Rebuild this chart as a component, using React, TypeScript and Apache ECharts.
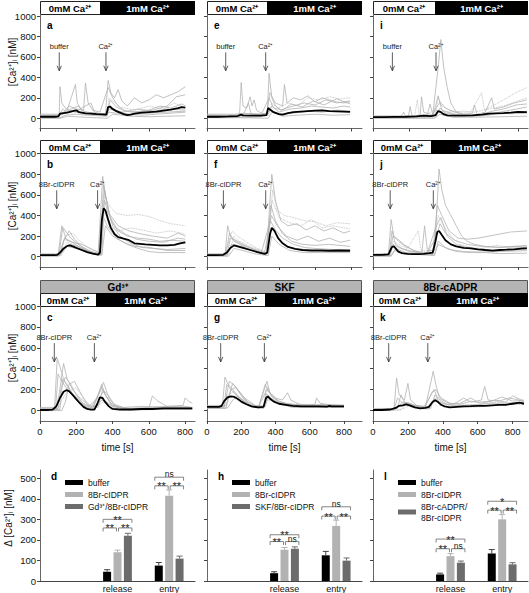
import React, { useEffect, useRef } from "react";
import * as echarts from "echarts";

// ---------------- tick values & categories ----------------
const timeTicks = [0, 200, 400, 600, 800];
const caTicks = [0, 200, 400, 600, 800, 1000];
const deltaTicks = [0, 100, 200, 300, 400, 500];
const barCategories = ["", "release", "entry"];

// ---------------- panel a (buffer) ----------------
const aMean = [[0,15],[40,15],[80,15],[100,18],[110,45],[130,50],[150,55],[170,65],[190,75],[200,78],[215,60],[230,55],[250,48],[280,45],[310,40],[340,38],[365,35],[375,110],[385,115],[400,90],[420,70],[440,55],[460,40],[480,30],[500,35],[520,45],[540,50],[560,55],[600,60],[640,65],[680,75],[720,85],[760,100],[780,110],[800,105]];
const aCells = [
  [[0,10],[105,10],[110,310],[120,150],[140,100],[160,80],[200,60],[250,50],[300,40],[360,30],[380,60],[420,50],[500,40],[600,50],[700,60],[800,70]],
  [[0,20],[100,20],[120,40],[150,80],[195,330],[205,150],[230,80],[260,60],[300,50],[360,40],[375,370],[390,250],[410,200],[430,280],[450,170],[480,120],[520,200],[560,150],[600,180],[640,230],[680,200],[720,230],[760,260],[800,310]],
  [[0,30],[100,30],[130,60],[160,120],[200,90],[240,80],[250,345],[265,150],[290,80],[330,60],[375,300],[400,200],[430,120],[460,80],[500,60],[560,70],[620,80],[700,120],[750,210],[800,230]],
  [[0,5],[110,5],[140,30],[200,40],[260,30],[320,25],[370,20],[380,120],[420,80],[480,40],[560,30],[640,40],[720,50],[800,60]],
  [[0,25],[110,25],[160,70],[220,50],[290,40],[370,50],[380,200],[440,110],[520,80],[600,120],[680,90],[740,150],[800,100]],
  [[0,0],[110,0],[150,20],[250,10],[370,0],[400,40],[500,20],[600,15],[700,20],[800,25]],
  [[0,40],[120,40],[170,90],[210,120],[240,60],[300,50],[372,40],[385,180],[420,110],[470,70],[530,60],[600,80],[660,120],[720,100],[780,140],[800,120]],
  [[0,15],[100,15],[125,90],[150,60],[200,70],[280,150],[300,60],[360,30],[380,90],[450,60],[540,90],[620,70],[700,90],[800,80]],
];
const aArrows = [106, 363];

// ---------------- panel e (buffer) ----------------
const eMean = [[0,15],[60,15],[120,18],[170,22],[190,35],[200,28],[240,25],[300,25],[330,30],[340,100],[350,85],[370,60],[400,40],[420,35],[450,50],[480,60],[520,65],[560,70],[600,75],[640,78],[680,70],[720,68],[760,65],[795,62]];
const eCells = [
  [[0,10],[180,10],[190,350],[200,120],[220,100],[240,210],[250,120],[262,180],[275,80],[300,50],[335,40],[345,440],[360,200],[380,120],[410,80],[440,100],[480,120],[540,150],[600,130],[660,180],[720,150],[795,170]],
  [[0,30],[150,30],[200,50],[260,40],[330,30],[350,250],[380,150],[420,120],[430,330],[445,150],[480,200],[520,180],[560,220],[600,160],[640,200],[680,180],[720,160],[760,150],[795,160]],
  [[0,20],[200,20],[260,30],[340,30],[360,150],[400,100],[450,150],[500,120],[560,200],[620,180],[680,210],[740,190],[795,200]],
  [[0,5],[200,5],[340,0],[360,60],[420,20],[500,30],[600,40],[700,30],[795,35]],
  [[0,40],[150,40],[250,45],[340,40],[360,120],[400,60],[460,90],[520,100],[580,120],[640,110],[700,100],[760,120],[795,110]],
  [[0,25],[200,25],[230,150],[245,40],[300,30],[345,200],[370,100],[420,80],[470,140],[530,110],[590,170],[650,130],[720,190],[795,140]],
  [[0,10],[250,10],[300,15],[350,80],[400,40],[480,50],[560,70],[640,60],[720,80],[795,70]],
];
const eArrows = [104, 326];

// ---------------- panel i (buffer) ----------------
const iMean = [[0,12],[60,12],[120,14],[180,15],[240,18],[280,25],[320,22],[345,30],[360,70],[375,60],[390,40],[410,28],[450,25],[500,25],[550,28],[600,35],[640,45],[680,48],[720,50],[760,55],[800,62],[850,60]];
const iCells = [
  [[0,10],[195,10],[205,115],[215,30],[260,20],[268,210],[280,60],[330,30],[360,500],[375,770],[390,500],[410,300],[430,150],[460,60],[500,40],[560,30],[640,40],[700,50],[760,45],[850,50]],
  [[0,20],[250,20],[300,30],[315,140],[330,40],[350,100],[370,160],[400,100],[450,60],[500,40],[550,50],[560,130],[575,40],[620,60],[655,200],[670,90],[720,110],[780,150],[850,180]],
  [[0,5],[300,5],[340,10],[360,200],[380,120],[420,80],[480,60],[540,60],[600,250],[615,80],[680,140],[740,200],[800,260],[850,300]],
  [[0,15],[300,15],[350,20],[370,100],[400,50],[480,30],[560,20],[640,30],[700,60],[760,80],[850,110]],
  [[0,0],[340,0],[370,40],[440,10],[560,10],[700,15],[850,20]],
  [[0,8],[150,8],[170,60],[180,10],[330,15],[345,120],[360,220],[380,80],[450,40],[520,30],[600,40],[660,70],[720,90],[790,130],[850,140]],
  [[0,25],[230,25],[245,180],[255,30],[300,40],[340,80],[400,60],[500,70],[560,60],[640,90],[720,120],[850,200]],
];
const iArrows = [107, 348];

// ---------------- panel b (8Br-cIDPR) ----------------
const bMean = [[0,15],[40,15],[80,15],[95,18],[110,40],[130,80],[150,105],[165,110],[180,100],[200,85],[230,65],[260,45],[290,30],[320,20],[330,40],[340,350],[350,470],[360,450],[375,360],[390,280],[410,220],[430,190],[460,175],[490,160],[520,130],[550,125],[580,120],[620,115],[660,110],[700,110],[740,115],[770,130],[800,140]];
const bCells = [
  [[0,20],[100,20],[120,300],[140,250],[170,180],[210,120],[260,60],[320,30],[345,780],[360,600],[390,350],[430,250],[480,200],[540,180],[600,170],[660,150],[720,160],[800,150]],
  [[0,10],[110,10],[130,150],[160,250],[190,170],[230,100],[280,50],[330,20],[350,700],[370,500],[400,300],[440,200],[500,130],[560,90],[620,80],[700,70],[800,80]],
  [[0,30],[100,30],[140,200],[180,230],[220,150],[270,80],[320,40],[350,600],[380,500],[420,420],[480,400],[540,410],[600,390],[660,350],[720,320],[800,300]],
  [[0,5],[100,5],[150,100],[200,80],[260,40],[330,10],[345,400],[370,300],[420,180],[480,120],[540,80],[600,50],[660,40],[720,40],[800,40]],
  [[0,25],[105,25],[125,280],[145,160],[180,140],[230,120],[290,70],[335,30],[355,650],[380,420],[430,300],[490,250],[560,220],[620,200],[700,180],[760,230],[800,200]],
  [[0,15],[110,15],[160,120],[210,100],[270,40],[340,15],[360,300],[400,200],[460,140],[520,100],[600,90],[700,60],[800,60]],
  [[0,20],[110,20],[135,180],[170,150],[220,90],[290,40],[340,20],[355,550],[375,420],[420,280],[470,220],[530,170],[600,150],[680,140],[760,180],[800,170]],
  [[0,10],[115,10],[150,140],[200,110],[260,60],[330,20],[352,480],[380,300],[430,250],[500,280],[560,260],[640,230],[720,250],[800,220]],
];
const bArrows = [92, 317];

// ---------------- panel f (8Br-cIDPR) ----------------
const fMean = [[0,15],[50,15],[90,18],[110,40],[130,85],[150,110],[170,100],[200,85],[240,65],[280,45],[320,28],[335,40],[350,220],[360,280],[375,250],[395,180],[420,130],[450,95],[490,75],[530,65],[580,60],[630,60],[680,58],[730,60],[795,58]];
const fCells = [
  [[0,20],[100,20],[115,300],[130,200],[160,150],[200,100],[260,60],[330,30],[360,800],[380,550],[410,350],[450,300],[500,320],[550,260],[600,300],[650,250],[700,280],[760,230],[795,250]],
  [[0,10],[110,10],[130,180],[160,160],[200,120],[260,70],[330,20],[355,500],[380,350],[420,220],[470,150],[530,120],[600,110],[680,120],[795,100]],
  [[0,30],[100,30],[140,250],[170,200],[220,140],[280,80],[335,40],[365,650],[390,450],[430,400],[480,380],[540,350],[600,340],[660,300],[720,330],[795,320]],
  [[0,5],[120,5],[150,80],[200,60],[260,30],[340,10],[360,200],[400,120],[460,60],[540,40],[640,40],[795,40]],
  [[0,25],[105,25],[125,230],[150,150],[200,110],[250,80],[320,40],[358,400],[390,300],[440,200],[500,160],[560,200],[620,150],[680,180],[740,140],[795,160]],
  [[0,15],[110,15],[135,120],[170,110],[230,70],[300,30],[352,350],[380,260],[420,180],[480,120],[540,90],[600,80],[700,70],[795,70]],
  [[0,20],[120,20],[150,200],[180,150],[240,100],[330,40],[362,550],[400,380],[460,330],[520,300],[580,360],[640,280],[700,300],[795,270]],
];
const fArrows = [91, 326];

// ---------------- panel j (8Br-cIDPR) ----------------
const jMean = [[0,18],[50,18],[85,22],[95,60],[105,95],[115,100],[125,80],[140,50],[160,35],[190,28],[220,25],[250,25],[280,28],[310,35],[330,40],[345,150],[355,240],[365,250],[380,210],[400,160],[430,120],[460,100],[500,85],[540,80],[580,72],[620,65],[660,60],[700,65],[740,68],[780,72],[820,78],[850,80]];
const jCells = [
  [[0,20],[85,20],[100,360],[115,200],[140,150],[180,100],[230,60],[270,40],[285,300],[300,60],[340,60],[365,850],[380,650],[400,500],[430,400],[460,300],[490,200],[520,150],[560,120],[620,100],[700,90],[780,100],[850,90]],
  [[0,10],[90,10],[110,200],[130,180],[170,120],[220,60],[280,30],[330,20],[355,500],[380,400],[420,250],[470,180],[520,170],[580,180],[640,200],[700,220],[760,240],[850,250]],
  [[0,30],[95,30],[110,150],[140,120],[190,80],[250,250],[265,60],[330,50],[360,400],[390,300],[430,200],[480,120],[540,90],[600,80],[680,110],[760,90],[850,100]],
  [[0,5],[100,5],[120,60],[170,30],[260,20],[340,10],[360,150],[400,90],[460,50],[540,40],[620,40],[700,30],[850,35]],
  [[0,25],[90,25],[105,250],[125,120],[160,80],[220,50],[300,40],[350,300],[375,380],[410,200],[460,120],[520,90],[600,70],[680,60],[760,80],[850,90]],
  [[0,15],[95,15],[110,120],[140,90],[200,50],[300,30],[350,200],[370,320],[400,230],[450,160],[520,120],[600,100],[700,90],[850,110]],
  [[0,10],[100,10],[125,80],[180,40],[250,30],[340,25],[360,120],[420,70],[500,50],[600,45],[700,50],[850,60]],
];
const jArrows = [95, 333];

// ---------------- panel c (Gd3+) ----------------
const cMean = [[0,5],[40,5],[70,8],[90,40],[110,120],[130,180],[145,195],[160,185],[180,150],[200,110],[220,70],[240,35],[260,15],[280,8],[300,10],[315,60],[330,125],[345,120],[360,80],[380,40],[400,15],[440,10],[500,10],[560,15],[620,15],[680,20],[740,20],[800,20],[840,20]];
const cCells = [
  [[0,10],[80,10],[95,500],[110,420],[130,300],[160,200],[200,100],[240,40],[290,10],[320,150],[340,250],[360,150],[400,40],[460,20],[600,20],[620,140],[650,90],[700,40],[800,40],[840,30]],
  [[0,20],[100,20],[115,200],[140,320],[170,250],[200,150],[240,60],[280,20],[330,180],[350,270],[380,120],[420,30],[500,20],[600,30],[700,40],[790,50],[800,120],[820,90],[840,70]],
  [[0,0],[120,0],[140,80],[160,250],[190,280],[220,180],[260,60],[300,10],[340,100],[370,80],[420,10],[500,5],[640,10],[840,10]],
  [[0,30],[90,30],[105,150],[130,450],[150,300],[180,200],[220,120],[270,50],[320,30],[345,200],[370,160],[410,60],[460,30],[560,40],[700,30],[840,30]],
  [[0,15],[100,15],[120,100],[150,180],[200,220],[240,120],[280,40],[330,60],[360,90],[400,40],[480,20],[600,25],[720,30],[840,25]],
  [[0,10],[110,10],[125,300],[150,250],[180,160],[230,80],[290,20],[340,220],[360,150],[400,50],[500,15],[700,20],[840,15]],
  [[0,5],[85,5],[100,350],[120,280],[160,180],[210,90],[260,30],[330,130],[350,180],[390,70],[450,20],[600,15],[840,20]],
];
const cArrows = [79, 300];

// ---------------- panel g (SKF) ----------------
const gMean = [[0,35],[40,35],[70,35],[85,45],[100,90],[120,125],[140,135],[160,130],[180,110],[200,85],[230,60],[260,40],[300,30],[330,35],[345,120],[355,135],[370,110],[390,85],[420,65],[460,55],[500,45],[550,40],[600,40],[650,40],[700,38],[715,45],[725,40],[760,40],[800,40]];
const gCells = [
  [[0,40],[90,40],[105,320],[120,260],[150,200],[190,120],[240,60],[300,30],[340,250],[360,180],[400,120],[440,100],[470,170],[490,100],[540,60],[600,50],[700,45],[800,45]],
  [[0,30],[100,30],[130,280],[160,240],[200,150],[240,80],[290,40],[330,30],[345,200],[380,150],[420,90],[480,60],[560,50],[630,60],[640,120],[660,70],[720,50],[800,50]],
  [[0,20],[110,20],[140,200],[170,220],[210,120],[250,50],[300,25],[350,280],[370,150],[420,70],[500,40],[600,35],[800,35]],
  [[0,50],[95,50],[120,150],[160,180],[200,100],[260,50],[330,45],[350,100],[400,90],[460,70],[540,60],[640,55],[800,55]],
  [[0,25],[120,25],[150,100],[180,140],[220,90],[270,30],[330,20],[348,160],[380,110],[430,60],[500,30],[600,30],[800,30]],
  [[0,35],[100,35],[115,250],[140,200],[180,130],[230,60],[300,30],[355,220],[380,130],[430,80],[500,50],[620,45],[800,40]],
  [[0,45],[110,45],[150,260],[180,200],[220,120],[280,50],[340,40],[360,140],[400,80],[480,60],[600,50],[700,60],[800,45]],
];
const gArrows = [80, 335];

// ---------------- panel k (8Br-cADPR) ----------------
const kMean = [[0,5],[50,5],[100,10],[130,25],[150,45],[170,50],[190,60],[210,50],[240,30],[270,20],[300,25],[320,35],[340,80],[355,100],[370,85],[390,55],[410,40],[440,30],[480,35],[520,40],[560,42],[600,45],[640,45],[680,50],[720,55],[760,55],[800,65],[840,75],[865,65]];
const kCells = [
  [[0,10],[120,10],[135,310],[150,150],[180,100],[200,260],[215,100],[250,50],[300,30],[345,375],[360,250],[380,120],[420,80],[460,60],[520,120],[560,80],[620,100],[640,230],[660,100],[720,90],[780,120],[840,100],[865,80]],
  [[0,20],[140,20],[160,150],[180,80],[230,50],[300,40],[340,180],[360,200],[390,120],[440,70],[500,60],[560,90],[620,70],[700,100],[760,80],[800,140],[840,110],[865,90]],
  [[0,0],[150,0],[200,40],[260,20],[320,10],[350,120],[400,70],[480,40],[560,30],[640,40],[720,50],[800,60],[865,55]],
  [[0,15],[130,15],[170,80],[210,70],[260,30],[330,20],[355,150],[380,80],[440,50],[520,50],[600,55],[680,70],[760,70],[865,80]],
  [[0,5],[120,5],[140,120],[170,70],[220,60],[290,30],[350,200],[370,120],[420,60],[500,70],[560,120],[600,80],[680,90],[740,130],[800,90],[865,100]],
  [[0,10],[160,10],[200,80],[240,40],[320,30],[360,90],[420,60],[500,50],[600,60],[700,80],[800,70],[865,60]],
];
const kArrows = [90, 314];

// ---------------- bar panels (release, entry) ----------------
const dBuffer = [45, 75];
const dBufferErr = [10, 15];
const dCIDPR = [140, 415];
const dCIDPRErr = [10, 28];
const dGd = [220, 109];
const dGdErr = [12, 12];
// [category, fromBar, toBar, height]
const dSig = [[1,0,1,258],[1,1,2,258],[1,0,2,300],[2,0,1,463],[2,1,2,463],[2,0,2,505]];
const dSigLabels = ["**","**","**","**","**","ns"];

const hBuffer = [38, 125];
const hBufferErr = [7, 19];
const hCIDPR = [152, 268];
const hCIDPRErr = [11, 28];
const hSKF = [157, 99];
const hSKFErr = [9, 13];
const hSig = [[1,0,1,192],[1,1,2,192],[1,0,2,225],[2,0,1,316],[2,1,2,316],[2,0,2,361]];
const hSigLabels = ["**","ns","**","**","**","ns"];

const lBuffer = [32, 134];
const lBufferErr = [6, 19];
const lCIDPR = [121, 300];
const lCIDPRErr = [12, 24];
const lCADPR = [89, 81];
const lCADPRErr = [8, 8];
const lSig = [[1,0,1,157],[1,1,2,157],[1,0,2,204],[2,0,1,345],[2,1,2,345],[2,0,2,388]];
const lSigLabels = ["**","ns","**","**","**","*"];

// ---------------- layout & style ----------------
const FONT = "'Liberation Sans', Arial, Helvetica, sans-serif";
const COLS = [40, 207, 373];
const PW = 155;
const ROWS = [
  { top: 14, height: 114.5, max: 1020, header: 1 },
  { top: 153, height: 114, max: 1007, header: 140 },
  { top: 306, height: 115, max: 1000, header: 293, drug: 280 },
];
const HDR_H = 13;
const BAR_ROW = { top: 470, height: 113, max: 540 };
const CELL_COLOR = "#b3b3b3";
const BAR_COLORS = ["#000000", "#b2b2b2", "#6c6c6c"];
const BAR_STEP = 10.4;
const ARROW_LABEL_V = 700;
const ARROW_TOP_V = 645;
const ARROW_TIP_V = 465;

const tracePanels = [
  { letter: "a", col: 0, row: 0, xMax: 853, split: 60, stim: "buffer", arrows: aArrows, mean: aMean, cells: aCells, dotted: [4] },
  { letter: "e", col: 1, row: 0, xMax: 861, split: 60, stim: "buffer", arrows: eArrows, mean: eMean, cells: eCells, dotted: [2] },
  { letter: "i", col: 2, row: 0, xMax: 856, split: 62, stim: "buffer", arrows: iArrows, mean: iMean, cells: iCells, dotted: [2, 6] },
  { letter: "b", col: 0, row: 1, xMax: 853, split: 60, stim: "8Br-cIDPR", arrows: bArrows, mean: bMean, cells: bCells, dotted: [2, 7] },
  { letter: "f", col: 1, row: 1, xMax: 861, split: 60, stim: "8Br-cIDPR", arrows: fArrows, mean: fMean, cells: fCells, dotted: [2, 6] },
  { letter: "j", col: 2, row: 1, xMax: 856, split: 58, stim: "8Br-cIDPR", arrows: jArrows, mean: jMean, cells: jCells, dotted: [2] },
  { letter: "c", col: 0, row: 2, xMax: 855, split: 56, stim: "8Br-cIDPR", arrows: cArrows, mean: cMean, cells: cCells, dotted: [4], drug: "Gd³⁺" },
  { letter: "g", col: 1, row: 2, xMax: 905, split: 58, stim: "8Br-cIDPR", arrows: gArrows, mean: gMean, cells: gCells, dotted: [3], drug: "SKF" },
  { letter: "k", col: 2, row: 2, xMax: 888, split: 54, stim: "8Br-cIDPR", arrows: kArrows, mean: kMean, cells: kCells, dotted: [2, 5], drug: "8Br-cADPR" },
];

const barPanels = [
  { letter: "d", col: 0, names: ["buffer", "8Br-cIDPR", "Gd³⁺/8Br-cIDPR"], vals: [dBuffer, dCIDPR, dGd], errs: [dBufferErr, dCIDPRErr, dGdErr], sig: dSig, sigLabels: dSigLabels },
  { letter: "h", col: 1, names: ["buffer", "8Br-cIDPR", "SKF/8Br-cIDPR"], vals: [hBuffer, hCIDPR, hSKF], errs: [hBufferErr, hCIDPRErr, hSKFErr], sig: hSig, sigLabels: hSigLabels },
  { letter: "l", col: 2, names: ["buffer", "8Br-cIDPR", "8Br-cADPR/\n8Br-cIDPR"], vals: [lBuffer, lCIDPR, lCADPR], errs: [lBufferErr, lCIDPRErr, lCADPRErr], sig: lSig, sigLabels: lSigLabels },
];

const arrowRenderer = (labels: string[]) => (params: any, api: any) => {
  const t = api.value(0);
  const pl = api.coord([t, ARROW_LABEL_V]);
  const p1 = api.coord([t, ARROW_TOP_V]);
  const p2 = api.coord([t, ARROW_TIP_V]);
  return {
    type: "group",
    children: [
      { type: "text", x: pl[0], y: pl[1], style: { text: labels[params.dataIndex], fontSize: 7.5, fontFamily: FONT, fill: "#222", align: "center", verticalAlign: "middle" } },
      { type: "line", shape: { x1: p1[0], y1: p1[1], x2: p2[0], y2: p2[1] }, style: { stroke: "#333", lineWidth: 0.8 } },
      { type: "polyline", shape: { points: [[p2[0] - 2.2, p2[1] - 5], [p2[0], p2[1]], [p2[0] + 2.2, p2[1] - 5]] }, style: { stroke: "#333", lineWidth: 0.8, fill: "none" } },
    ],
  };
};

const errRenderer = (params: any, api: any) => {
  const cat = api.value(0), v = api.value(1), e = api.value(2), s = api.value(3);
  const b = api.coord([cat, v]);
  const t = api.coord([cat, v + e]);
  const x = b[0] + (s - 1) * BAR_STEP;
  const color = s === 0 ? "#444" : BAR_COLORS[s];
  return {
    type: "group",
    children: [
      { type: "line", shape: { x1: x, y1: b[1], x2: x, y2: t[1] }, style: { stroke: color, lineWidth: 1 } },
      { type: "line", shape: { x1: x - 3, y1: t[1], x2: x + 3, y2: t[1] }, style: { stroke: color, lineWidth: 1 } },
    ],
  };
};

const sigRenderer = (labels: string[]) => (params: any, api: any) => {
  const cat = api.value(0), a = api.value(1), b = api.value(2), h = api.value(3);
  const c = api.coord([cat, h]);
  const x1 = c[0] + (a - 1) * BAR_STEP + (a === 0 ? -4 : 1);
  const x2 = c[0] + (b - 1) * BAR_STEP + (b === 2 ? 4 : -1);
  const y = c[1];
  const label = labels[params.dataIndex];
  const isStar = label.indexOf("*") >= 0;
  return {
    type: "group",
    children: [
      { type: "polyline", shape: { points: [[x1, y + 3.5], [x1, y], [x2, y], [x2, y + 3.5]] }, style: { stroke: "#666", lineWidth: 0.8, fill: "none" } },
      { type: "text", x: (x1 + x2) / 2, y: isStar ? y + 0.5 : y - 3, style: { text: label, fontSize: isStar ? 11 : 8.5, lineHeight: isStar ? 8 : 8, fontFamily: FONT, fill: "#222", align: "center", verticalAlign: "middle" } },
    ],
  };
};

const plainNum = (v: number) => String(v);

function buildOption() {
  const grid: any[] = [];
  const xAxis: any[] = [];
  const yAxis: any[] = [];
  const series: any[] = [];
  const graphic: any[] = [];
  const legend: any[] = [];

  const axisLine = { onZero: false, lineStyle: { color: "#666", width: 1 } };

  tracePanels.forEach((p: any, i) => {
    const left = COLS[p.col];
    const r: any = ROWS[p.row];
    grid.push({ left, top: r.top, width: PW, height: r.height });
    xAxis.push({
      type: "value", gridIndex: i, min: 0, max: p.xMax,
      axisLine,
      axisTick: { customValues: timeTicks, length: 3, lineStyle: { color: "#444" } },
      axisLabel: { show: p.row === 2, customValues: timeTicks, formatter: plainNum, fontSize: 9.5, fontFamily: FONT, color: "#111", margin: 5 },
      splitLine: { show: false },
      name: p.row === 2 ? "time [s]" : "",
      nameLocation: "middle", nameGap: 21,
      nameTextStyle: { fontSize: 10, fontFamily: FONT, color: "#111" },
    });
    yAxis.push({
      type: "value", gridIndex: i, min: -100, max: r.max,
      axisLine: { show: true, onZero: false, lineStyle: { color: "#666", width: 1 } },
      axisTick: { show: true, customValues: caTicks, length: 3, lineStyle: { color: "#444" } },
      axisLabel: { show: p.col === 0, customValues: caTicks, formatter: plainNum, fontSize: 9.5, fontFamily: FONT, color: "#111", margin: 4 },
      splitLine: { show: false },
    });
    p.cells.forEach((c: number[][], j: number) => {
      series.push({
        type: "line", name: `${p.letter}-cell-${j}`, xAxisIndex: i, yAxisIndex: i, data: c,
        symbol: "none", silent: true, z: 2,
        lineStyle: { color: CELL_COLOR, width: 0.8, type: p.dotted.indexOf(j) >= 0 ? "dotted" : "solid" },
      });
    });
    series.push({
      type: "line", name: `${p.letter}-mean`, xAxisIndex: i, yAxisIndex: i, data: p.mean,
      symbol: "none", silent: true, z: 3, lineStyle: { color: "#000", width: 1.8 },
    });
    series.push({
      type: "custom", name: `${p.letter}-arrows`, xAxisIndex: i, yAxisIndex: i,
      data: p.arrows.map((t: number) => [t, 0]), renderItem: arrowRenderer([p.stim, "Ca²⁺"]), z: 4, silent: true,
    });

    // header
    if (p.drug) {
      graphic.push({ type: "rect", shape: { x: left + 0.5, y: r.drug + 0.5, width: PW - 1, height: HDR_H }, style: { fill: "#b4b4b4", stroke: "#555", lineWidth: 1 } });
      graphic.push({ type: "text", x: left + PW / 2, y: r.drug + HDR_H / 2 + 1, style: { text: p.drug, font: `bold 10px ${FONT}`, fill: "#000", align: "center", verticalAlign: "middle" } });
    }
    graphic.push({ type: "rect", shape: { x: left + 0.5, y: r.header + 0.5, width: p.split, height: HDR_H }, style: { fill: "#fff", stroke: "#222", lineWidth: 1 } });
    graphic.push({ type: "rect", shape: { x: left + p.split, y: r.header, width: PW - p.split, height: HDR_H + 1 }, style: { fill: "#000" } });
    graphic.push({ type: "text", x: left + p.split / 2, y: r.header + HDR_H / 2 + 1, style: { text: "0mM Ca²⁺", font: `bold 9.5px ${FONT}`, fill: "#000", align: "center", verticalAlign: "middle" } });
    graphic.push({ type: "text", x: left + p.split + (PW - p.split) / 2, y: r.header + HDR_H / 2 + 1, style: { text: "1mM Ca²⁺", font: `bold 9.5px ${FONT}`, fill: "#fff", align: "center", verticalAlign: "middle" } });
    graphic.push({ type: "text", x: left + 7, y: r.top + 11, style: { text: p.letter, font: `bold 10px ${FONT}`, fill: "#000", align: "left", verticalAlign: "middle" } });
  });

  // y-axis titles
  const yTitleCenters = [62, 206, 358];
  yTitleCenters.forEach((cy) => {
    graphic.push({ type: "text", x: 12, y: cy, rotation: Math.PI / 2, style: { text: "[Ca²⁺]ᵢ [nM]", font: `10px ${FONT}`, fill: "#111", align: "center", verticalAlign: "middle" } });
  });
  graphic.push({ type: "text", x: 8, y: 518, rotation: Math.PI / 2, style: { text: "Δ [Ca²⁺]ᵢ [nM]", font: `10px ${FONT}`, fill: "#111", align: "center", verticalAlign: "middle" } });

  barPanels.forEach((b: any, k) => {
    const gi = tracePanels.length + k;
    const left = COLS[b.col];
    grid.push({ left, top: BAR_ROW.top, width: PW, height: BAR_ROW.height });
    xAxis.push({
      type: "category", gridIndex: gi, data: barCategories,
      axisLine: { lineStyle: { color: "#444", width: 1 } },
      axisTick: { show: false },
      axisLabel: { fontSize: 9, fontFamily: FONT, color: "#111", margin: 3 },
    });
    yAxis.push({
      type: "value", gridIndex: gi, min: 0, max: BAR_ROW.max,
      axisLine: { show: true, lineStyle: { color: "#666", width: 1 } },
      axisTick: { show: true, customValues: deltaTicks, length: 3, lineStyle: { color: "#444" } },
      axisLabel: { show: b.col === 0, customValues: deltaTicks, formatter: plainNum, fontSize: 9.5, fontFamily: FONT, color: "#111", margin: 4 },
      splitLine: { show: false },
    });
    b.vals.forEach((v: number[], s: number) => {
      series.push({
        type: "bar", name: b.names[s], xAxisIndex: gi, yAxisIndex: gi, data: ["-", ...v],
        barWidth: 8, barGap: "30%", itemStyle: { color: BAR_COLORS[s] }, silent: true, z: 2,
      });
    });
    const errData: number[][] = [];
    b.errs.forEach((e: number[], s: number) => {
      e.forEach((ev: number, c: number) => errData.push([c + 1, b.vals[s][c], ev, s]));
    });
    series.push({ type: "custom", name: `${b.letter}-err`, xAxisIndex: gi, yAxisIndex: gi, data: errData, renderItem: errRenderer, z: 3, silent: true });
    series.push({ type: "custom", name: `${b.letter}-sig`, xAxisIndex: gi, yAxisIndex: gi, data: b.sig, renderItem: sigRenderer(b.sigLabels), z: 4, silent: true });
    legend.push({
      data: b.names, orient: "vertical", left: left + 20, top: 472,
      icon: "rect", itemWidth: 18, itemHeight: 5, itemGap: 1,
      textStyle: { fontSize: 8.5, fontFamily: FONT, color: "#111", lineHeight: 11 },
      selectedMode: false,
    });
    graphic.push({ type: "text", x: left + 11, y: 476, style: { text: b.letter, font: `bold 10px ${FONT}`, fill: "#000", align: "left", verticalAlign: "middle" } });
  });

  return { animation: false, grid, xAxis, yAxis, series, legend, graphic };
}

export default function App() {
  const ref = useRef<HTMLDivElement>(null);
  useEffect(() => {
    if (!ref.current) return;
    const chart = echarts.init(ref.current, null, { renderer: "svg" });
    chart.setOption(buildOption() as any);
    return () => chart.dispose();
  }, []);
  return (
    <div
      ref={ref}
      style={{ position: "absolute", left: 0, top: 0, width: 529, height: 593, background: "#fff" }}
    />
  );
}
